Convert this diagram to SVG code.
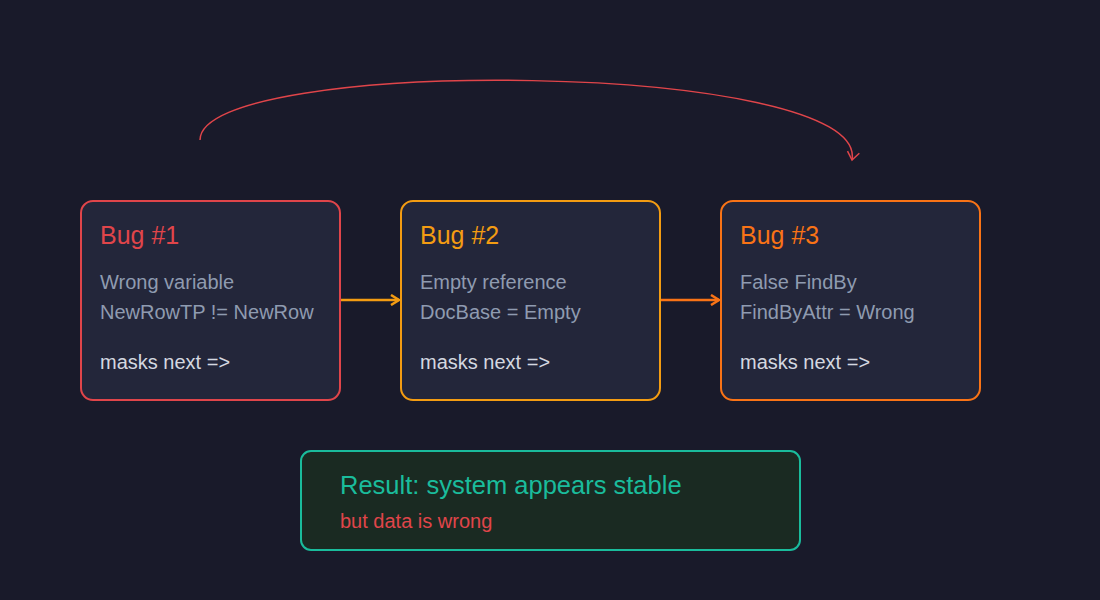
<svg xmlns="http://www.w3.org/2000/svg" width="1100" height="600" viewBox="0 0 1100 600">
<style>
.box{fill:#23263a;stroke-width:2}
.title{font-family:"Liberation Sans",Arial,sans-serif;font-size:25px}
.body{font-family:"Liberation Sans",Arial,sans-serif;font-size:20px;fill:#8f9bb0}
.mask{font-family:"Liberation Sans",Arial,sans-serif;font-size:20px;fill:#d4d8e0}
.conn{fill:none;stroke-width:2.5}
</style>
<defs>
<marker id="ahAmber" markerWidth="12" markerHeight="12" refX="10" refY="6" orient="auto" markerUnits="userSpaceOnUse"><path d="M2,1 L10,6 L2,11" fill="none" stroke="#f39c12" stroke-width="2.5"/></marker>
<marker id="ahOrange" markerWidth="12" markerHeight="12" refX="10" refY="6" orient="auto" markerUnits="userSpaceOnUse"><path d="M2,1 L10,6 L2,11" fill="none" stroke="#f97316" stroke-width="2.5"/></marker>
<marker id="ahRed" markerWidth="14" markerHeight="14" refX="10" refY="7" orient="auto" markerUnits="userSpaceOnUse"><path d="M2,1 L10,7 L2,13" fill="none" stroke="#e0454a" stroke-width="1.5"/></marker>
</defs>
<rect width="1100" height="600" fill="#191a2a"/>
<g id="connectors">
<path class="conn" d="M341,300 L399,300" stroke="#f39c12" marker-end="url(#ahAmber)"/>
<path class="conn" d="M661,300 L719,300" stroke="#f97316" marker-end="url(#ahOrange)"/>
<path d="M200,140 C200,55 870,60 852,160" fill="none" stroke="#e0454a" stroke-width="1.5" marker-end="url(#ahRed)"/>
</g>
<g id="bug1">
<rect class="box" x="81" y="201" width="259" height="199" rx="12" stroke="#e0454a"/>
<text class="title" x="100" y="244" fill="#e0454a">Bug #1</text>
<text class="body" x="100" y="289">Wrong variable</text>
<text class="body" x="100" y="319">NewRowTP != NewRow</text>
<text class="mask" x="100" y="369">masks next =&gt;</text>
</g>
<g id="bug2">
<rect class="box" x="401" y="201" width="259" height="199" rx="12" stroke="#f39c12"/>
<text class="title" x="420" y="244" fill="#f39c12">Bug #2</text>
<text class="body" x="420" y="289">Empty reference</text>
<text class="body" x="420" y="319">DocBase = Empty</text>
<text class="mask" x="420" y="369">masks next =&gt;</text>
</g>
<g id="bug3">
<rect class="box" x="721" y="201" width="259" height="199" rx="12" stroke="#f97316"/>
<text class="title" x="740" y="244" fill="#f97316">Bug #3</text>
<text class="body" x="740" y="289">False FindBy</text>
<text class="body" x="740" y="319">FindByAttr = Wrong</text>
<text class="mask" x="740" y="369">masks next =&gt;</text>
</g>
<g id="result">
<rect x="301" y="451" width="499" height="99" rx="10" fill="#1a2a22" stroke="#1abc9c" stroke-width="2"/>
<text x="340" y="494" font-family="Liberation Sans, Arial, sans-serif" font-size="25.5" fill="#1abc9c">Result: system appears stable</text>
<text x="340" y="528" font-family="Liberation Sans, Arial, sans-serif" font-size="20" fill="#e0454a">but data is wrong</text>
</g>
</svg>
